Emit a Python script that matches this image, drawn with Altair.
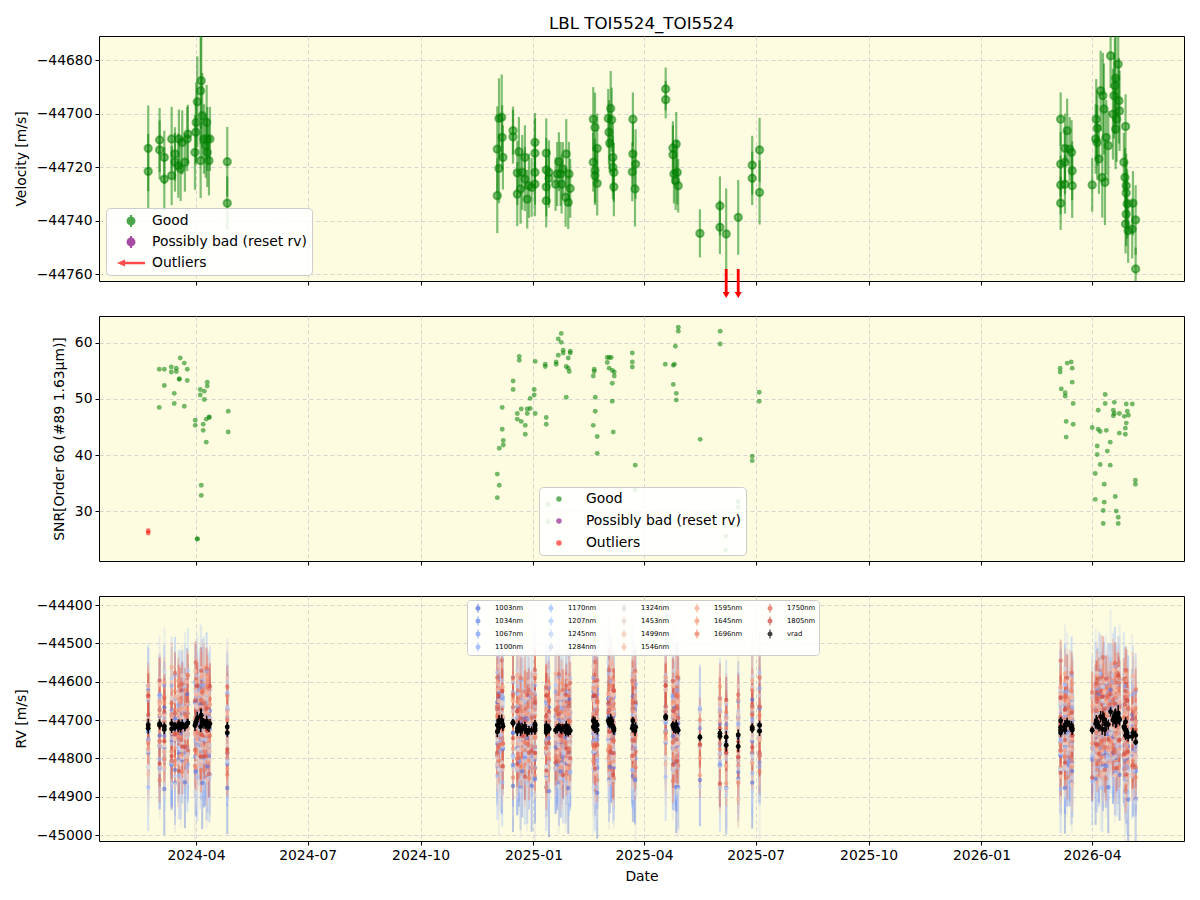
import altair as alt
import numpy as np
import pandas as pd

# ---------------- data (times are BJD - 2460000) ----------------
# Panel 1: good radial velocities
rv_day = [362.6, 362.6, 371.9, 371.9, 375.7, 375.7, 381.7, 381.7, 384.4, 384.4,
          387.1, 387.6, 389.0, 390.3, 392.5, 394.4, 394.9, 400.7, 401.3, 401.7,
          402.6, 405.3, 405.8, 406.6, 405.3, 408.0, 409.4, 410.2, 410.7, 410.7,
          412.1, 412.9, 427.0, 427.0,
          647.0, 647.0, 648.4, 650.6, 648.4, 651.0, 651.6, 659.8, 659.8, 663.3,
          663.3, 664.6, 666.0, 667.3, 669.5, 669.5, 671.4, 672.8, 675.0, 677.7,
          677.7, 677.7, 677.7, 686.9, 686.9, 686.9, 686.9, 689.1, 689.1, 694.5,
          695.8, 697.2, 698.6, 699.4, 700.5, 702.7, 703.2, 704.8, 705.4, 706.4,
          725.2, 726.6, 725.2, 726.6, 726.6, 728.4, 728.4, 737.4, 739.4, 740.2,
          738.0, 738.6, 741.2, 741.2, 742.0, 742.0, 757.5, 757.5, 757.0, 759.7,
          759.2, 784.2, 784.2, 790.1, 790.1, 792.8, 790.9, 793.6, 792.3, 794.4,
          812.1, 828.4, 828.4, 833.5, 843.3, 854.7, 854.7, 860.7, 860.7,
          1106.0, 1106.0, 1106.0, 1106.0, 1111.3, 1109.5, 1109.5, 1109.5, 1113.3, 1114.9,
          1115.4, 1115.4, 1131.7, 1135.0, 1135.8, 1134.5, 1135.8, 1137.2, 1138.6, 1140.4,
          1141.3, 1139.9, 1142.1, 1143.1, 1144.8, 1146.7, 1148.6, 1149.4, 1150.2, 1150.8,
          1150.8, 1151.6, 1152.9, 1153.5, 1154.0, 1158.9, 1157.5, 1158.4, 1159.4, 1159.4,
          1160.2, 1159.4, 1158.9, 1161.0, 1164.3, 1164.9, 1167.1, 1167.1]
rv_val = [-44713.0, -44721.6, -44709.9, -44713.6, -44716.4, -44724.5, -44709.5, -44723.2, -44715.1, -44718.2,
          -44719.5, -44709.5, -44720.7, -44710.8, -44718.2, -44709.5, -44707.7, -44714.5, -44707.0, -44703.3,
          -44695.6, -44691.5, -44687.7, -44700.8, -44717.6, -44709.5, -44712.0, -44703.3, -44709.5, -44714.5,
          -44717.6, -44709.5, -44718.0, -44733.5,
          -44730.7, -44713.3, -44701.8, -44701.4, -44720.5, -44708.9, -44716.4, -44706.4, -44708.7, -44722.2,
          -44730.1, -44714.3, -44728.2, -44722.0, -44716.4, -44724.5, -44732.0, -44727.0, -44727.6, -44710.8,
          -44714.8, -44722.0, -44726.4, -44714.8, -44721.1, -44727.4, -44732.6, -44722.0, -44724.2, -44726.4,
          -44722.6, -44718.0, -44722.6, -44726.4, -44720.7, -44731.3, -44715.1, -44733.2, -44722.6, -44728.0,
          -44702.1, -44705.2, -44718.2, -44721.3, -44723.2, -44713.0, -44726.1, -44701.8, -44698.1, -44702.3,
          -44707.0, -44711.1, -44716.4, -44720.1, -44722.0, -44727.4, -44702.1, -44715.1, -44721.8, -44718.9,
          -44728.2, -44690.8, -44694.8, -44712.9, -44715.4, -44711.4, -44722.6, -44722.0, -44725.1, -44727.0,
          -44744.8, -44734.5, -44742.5, -44745.0, -44738.8, -44719.3, -44724.2, -44713.6, -44729.5,
          -44702.1, -44718.9, -44726.7, -44733.5, -44706.4, -44713.0, -44718.2, -44726.4, -44713.3, -44714.5,
          -44721.4, -44727.0, -44726.7, -44702.1, -44705.5, -44709.5, -44710.8, -44717.0, -44691.5, -44693.3,
          -44698.3, -44723.9, -44725.7, -44708.9, -44712.0, -44678.4, -44700.2, -44693.3, -44689.6, -44686.8,
          -44705.8, -44702.1, -44681.5, -44695.2, -44699.0, -44704.8, -44718.2, -44723.9, -44727.0, -44729.7,
          -44733.8, -44737.6, -44741.3, -44743.8, -44743.2, -44733.5, -44739.8, -44758.1]
rv_err = [16, 14, 12, 11, 10, 12, 12, 11, 10, 11,
          12, 11, 12, 12, 11, 12, 11, 14, 12, 15,
          17, 20, 18, 16, 14, 13, 12, 14, 12, 13,
          13, 12, 13, 10,
          14, 16, 15, 16, 13, 12, 12, 9, 10, 12,
          12, 13, 13, 14, 12, 12, 11, 12, 11, 11,
          13, 12, 12, 13, 12, 11, 10, 12, 11, 10,
          12, 11, 12, 11, 10, 11, 13, 10, 12, 11,
          12, 13, 11, 12, 11, 13, 12, 11, 14, 12,
          12, 11, 13, 12, 11, 11, 10, 12, 11, 13,
          14, 8, 7, 10, 11, 12, 11, 12, 11, 10,
          9, 11, 10, 17, 14, 11, 10, 12, 12,
          10, 12, 11, 10, 12, 13, 12, 11, 12, 12,
          11, 12, 10, 15, 14, 13, 14, 13, 15, 16,
          17, 15, 16, 14, 13, 12, 17, 16, 18, 17,
          15, 16, 20, 16, 15, 12, 11, 11, 12, 12,
          13, 12, 11, 12, 11, 12, 13, 8]

# Outliers (below the plotted velocity range)
out_day = [833.5, 843.3]
out_val = [-44766.0, -44769.0]
out_err = [16, 14]

# Panel 2: SNR of order 60
snr_day = [371.6, 371.6, 375.7, 375.7, 381.4, 381.4, 383.8, 383.8, 385.5, 385.5,
           387.9, 387.9, 388.7, 392.0, 392.0, 394.4, 394.4, 400.9, 400.9, 402.6,
           402.6, 405.0, 405.0, 405.8, 405.8, 407.4, 407.4, 408.3, 408.3, 409.9,
           409.9, 410.7, 410.7, 412.3, 412.3, 427.8, 427.8,
           647.0, 647.0, 648.6, 648.6, 651.0, 651.0, 651.9, 651.9, 659.9, 659.9,
           663.3, 663.3, 664.9, 664.9, 666.5, 666.5, 669.8, 669.8, 671.4, 671.4,
           673.8, 673.8, 677.1, 677.1, 677.9, 677.9, 686.1, 686.1, 686.9, 686.9,
           688.5, 688.5, 695.0, 695.0, 696.7, 696.7, 699.1, 699.1, 700.7, 700.7,
           703.2, 703.2, 704.8, 704.8, 705.6, 706.4, 706.4, 725.2, 725.2, 726.0,
           726.0, 726.8, 726.8, 728.4, 728.4, 736.6, 736.6, 738.2, 738.2, 739.8,
           740.7, 740.7, 740.7, 741.5, 742.3, 742.3, 757.0, 757.0, 757.0, 759.4,
           759.4, 783.9, 790.4, 790.4, 791.3, 792.1, 792.9, 792.9, 794.5, 794.5,
           812.3, 828.6, 828.6, 833.2, 833.2, 843.3, 843.3, 854.7, 854.7, 860.4,
           860.4,
           1105.6, 1105.6, 1106.5, 1109.7, 1109.7, 1110.5, 1110.5, 1111.3, 1114.6, 1115.4,
           1115.4, 1116.2, 1116.2, 1131.7, 1134.2, 1134.2, 1135.8, 1135.8, 1136.6, 1136.6,
           1138.2, 1138.2, 1140.7, 1140.7, 1141.5, 1141.5, 1142.3, 1142.3, 1143.2, 1144.0,
           1146.4, 1146.4, 1148.9, 1148.9, 1149.7, 1149.7, 1150.5, 1151.3, 1152.9, 1152.9,
           1153.8, 1153.8, 1157.9, 1158.7, 1158.7, 1159.5, 1159.5, 1160.3, 1161.2, 1164.4,
           1166.9, 1166.9]
snr_val = [55.3, 48.5, 55.3, 52.4, 55.7, 54.8, 51.0, 49.2, 55.5, 54.9,
           53.5, 53.6, 57.3, 56.4, 48.7, 55.3, 53.3, 46.2, 45.3, 25.1,
           25.0, 51.7, 50.7, 34.6, 32.8, 45.5, 44.4, 51.4, 49.9, 46.4,
           42.3, 53.0, 52.3, 46.7, 46.8, 47.8, 44.1,
           36.6, 32.4, 34.6, 41.2, 44.6, 48.5, 41.8, 42.6, 53.2, 51.7,
           47.4, 46.4, 57.6, 56.9, 48.2, 46.0, 45.3, 43.7, 48.2, 47.4,
           50.1, 48.3, 51.7, 50.7, 47.4, 56.7, 56.2, 55.8, 46.7, 45.5,
           31.2, 28.1, 56.6, 56.2, 60.7, 57.8, 60.1, 61.7, 58.2, 58.7,
           50.3, 55.8, 57.3, 55.5, 54.9, 58.5, 58.2, 54.1, 45.3, 55.3,
           54.9, 50.3, 47.8, 43.3, 40.3, 57.4, 56.5, 57.4, 55.5, 57.4,
           55.1, 52.8, 49.6, 44.1, 54.8, 54.1, 58.2, 56.6, 55.7, 38.2,
           33.8, 56.2, 52.6, 56.0, 56.2, 59.4, 51.0, 49.8, 62.8, 62.1,
           42.8, 62.1, 59.8, 25.5, 23.0, 31.7, 30.7, 39.8, 39.0, 51.2,
           49.6,
           55.5, 54.8, 51.8, 51.1, 50.5, 46.0, 43.2, 56.4, 56.6, 55.5,
           53.0, 49.2, 45.5, 44.9, 36.7, 32.1, 41.6, 40.1, 44.6, 48.0,
           44.2, 38.3, 30.1, 27.8, 34.8, 31.6, 50.8, 49.2, 44.4, 40.7,
           42.3, 38.2, 48.0, 47.0, 49.4, 47.4, 32.6, 30.0, 28.9, 27.8,
           47.4, 43.9, 46.9, 44.8, 43.7, 49.1, 45.7, 47.8, 47.1, 49.1,
           35.5, 34.8]
snr_out_day = [362.6, 362.6]
snr_out_val = [26.5, 26.1]

# Panel 3: per-band RVs, as offsets (m/s) from vrad
band_names = ["1003nm", "1034nm", "1067nm", "1100nm", "1170nm", "1207nm", "1245nm",
              "1284nm", "1324nm", "1453nm", "1499nm", "1546nm", "1595nm", "1645nm",
              "1696nm", "1750nm", "1805nm"]
band_offset = [-40, -25, -10, 15, -30, 20, -5, 35, -50, 10, 25, -15, 30, 5, -20, 40, 0]
band_err = [120, 110, 105, 100, 115, 110, 105, 115, 125, 85, 75, 70, 65, 60, 58, 55, 60]
band_scatter = [0.0, 1.3, -0.8, 0.5, -1.6, 0.9, -0.3, 1.8, -1.1, 0.2,
                -0.6, 1.0, -1.9, 0.7, -0.1, 1.5, -1.3, 0.4, -0.9]

# ---------------- styles ----------------
band_colors = ["#5370dd", "#6485ec", "#7699f6", "#89acfd", "#9bbcff", "#adc9fd",
               "#bed3f6", "#cfdaec", "#dddddd", "#ead5c9", "#f3c9b4", "#f7bba0",
               "#f7a98a", "#f39576", "#eb7e62", "#e06450", "#d24a3f"]
FONT = "DejaVu Sans"
FS = 13.9
BG = "#fdfce1"
W, H = 1085, 245


def to_date(days):
    return pd.to_datetime(np.asarray(days, dtype=float) + 2460000.0 - 2440587.5, unit="D")


xscale = alt.Scale(domain=[alt.DateTime(year=2024, month=1, date=13),
                           alt.DateTime(year=2026, month=6, date=15)])
xticks = [alt.DateTime(year=y, month=m, date=1) for y, m in
          [(2024, 4), (2024, 7), (2024, 10), (2025, 1), (2025, 4), (2025, 7),
           (2025, 10), (2026, 1), (2026, 4)]]


def xenc(labels):
    return alt.X("date:T", scale=xscale,
                 axis=alt.Axis(values=xticks, format="%Y-%m", labels=labels,
                               title="Date" if labels else None, labelFlush=False))


statuses = ["Good", "Possibly bad (reset rv)", "Outliers"]
status_colors = ["green", "purple", "red"]

# ---------------- panel 1 ----------------
p1 = pd.DataFrame({"date": to_date(rv_day), "v": rv_val, "e": rv_err})
p1["lo"] = p1["v"] - p1["e"]
p1["hi"] = p1["v"] + p1["e"]
y1 = alt.Scale(domain=[-44762.6, -44671.0], nice=False, zero=False)
y1axis = alt.Axis(values=list(range(-44760, -44679, 20)), format="d", title="Velocity [m/s]")

bars1 = alt.Chart(p1).mark_rule(color="green", strokeWidth=2.2, opacity=0.5, clip=True).encode(
    x=xenc(False), y=alt.Y("lo:Q", scale=y1, axis=y1axis), y2="hi:Q")
pts1 = alt.Chart(p1).mark_point(filled=True, fill="green", stroke="green", opacity=1,
                                fillOpacity=0.5, strokeOpacity=0.5, strokeWidth=2,
                                size=55, clip=True).encode(
    x=xenc(False), y=alt.Y("v:Q", scale=y1))

po = pd.DataFrame({"date": to_date(out_day), "v": out_val})
arrow_shaft = alt.Chart(po).mark_rule(color="red", strokeWidth=2.8, clip=False).encode(
    x=xenc(False), y=alt.value(233), y2=alt.value(256))
arrow_head = alt.Chart(po).mark_point(shape="triangle-down", filled=True, color="red",
                                      opacity=1, size=50, clip=False).encode(
    x=xenc(False), y=alt.value(259))

path_bar = ("M-0.13,-0.75L0.13,-0.75L0.13,0.75L-0.13,0.75Z "
            "M-0.56,0A0.56,0.56,0,1,1,0.56,0A0.56,0.56,0,1,1,-0.56,0Z")
path_arrow = "M-1.75,0L-0.75,-0.45L-0.75,-0.16L1.75,-0.16L1.75,0.16L-0.75,0.16L-0.75,0.45Z"
leg1_df = pd.DataFrame({"status": statuses, "date": to_date([500, 500, 500])})
leg1_props = dict(title=None, orient="none", legendX=7, legendY=172, symbolSize=256,
                  symbolOpacity=0.7, labelFontSize=FS, labelFont=FONT, labelOffset=13,
                  symbolOffset=12, rowPadding=6, padding=5,
                  fillColor="rgba(255,255,255,0.85)",
                  strokeColor="#cccccc", cornerRadius=4, symbolStrokeWidth=0)
leg1 = alt.Chart(leg1_df).mark_point(filled=True, opacity=0.7, clip=True).encode(
    x=xenc(False), y=alt.value(-200),
    color=alt.Color("status:N", scale=alt.Scale(domain=statuses, range=status_colors),
                    legend=alt.Legend(**leg1_props)),
    shape=alt.Shape("status:N", scale=alt.Scale(domain=statuses,
                                                range=[path_bar, path_bar, path_arrow]),
                    legend=alt.Legend(**leg1_props)))

panel1 = alt.layer(bars1, pts1, arrow_shaft, arrow_head, leg1).properties(
    width=W, height=H,
    title=alt.TitleParams("LBL TOI5524_TOI5524", fontSize=16.7, font=FONT, fontWeight="normal",
                          anchor="middle", frame="group", offset=3, color="black"))

# ---------------- panel 2 ----------------
p2 = pd.DataFrame({"date": to_date(snr_day + snr_out_day),
                   "snr": snr_val + snr_out_val,
                   "status": ["Good"] * len(snr_day) + ["Outliers"] * len(snr_out_day)})
y2 = alt.Scale(domain=[21.1, 64.8], nice=False, zero=False)
pts2 = alt.Chart(p2).mark_circle(size=24, opacity=0.55, clip=True).encode(
    x=xenc(False),
    y=alt.Y("snr:Q", scale=y2, axis=alt.Axis(values=[30, 40, 50, 60],
                                             title="SNR[Order 60 (#89 1.63μm)]")),
    color=alt.Color("status:N", scale=alt.Scale(domain=statuses, range=status_colors),
                    legend=alt.Legend(title=None, orient="none", legendX=440, legendY=171,
                                      symbolType="circle", symbolSize=30, symbolOpacity=0.6,
                                      labelFontSize=FS, labelFont=FONT, labelOffset=20,
                                      symbolOffset=8, rowPadding=7, padding=5,
                                      fillColor="rgba(255,255,255,0.85)",
                                      strokeColor="#cccccc", cornerRadius=4)))
panel2 = pts2.properties(width=W, height=H)

# ---------------- panel 3 ----------------
all_day = rv_day + out_day
all_val = rv_val + out_val
all_err = rv_err + out_err
rows = []
nsc = len(band_scatter)
for b, name in enumerate(band_names):
    for i, (d, v) in enumerate(zip(all_day, all_val)):
        off = band_offset[b] + 65.0 * band_scatter[(3 * i + 7 * b) % nsc]
        rows.append((d, name, v + off, band_err[b]))
p3 = pd.DataFrame(rows, columns=["day", "band", "rv", "e"])
p3["date"] = to_date(p3["day"])
p3["lo"] = p3["rv"] - p3["e"]
p3["hi"] = p3["rv"] + p3["e"]
pv = pd.DataFrame({"date": to_date(all_day), "rv": all_val, "e": all_err, "band": "vrad"})
pv["lo"] = pv["rv"] - pv["e"]
pv["hi"] = pv["rv"] + pv["e"]

legend_order = ["1003nm", "1170nm", "1324nm", "1595nm", "1750nm",
                "1034nm", "1207nm", "1453nm", "1645nm", "1805nm",
                "1067nm", "1245nm", "1499nm", "1696nm", "vrad",
                "1100nm", "1284nm", "1546nm"]
cmap = dict(zip(band_names, band_colors))
cmap["vrad"] = "black"
cscale3 = alt.Scale(domain=legend_order, range=[cmap[k] for k in legend_order])
path_bar_s = ("M-0.12,-0.9L0.12,-0.9L0.12,0.9L-0.12,0.9Z "
              "M-0.5,0A0.5,0.5,0,1,1,0.5,0A0.5,0.5,0,1,1,-0.5,0Z")
leg3 = alt.Legend(title=None, orient="none", legendX=368, legendY=4, columns=5,
                  direction="horizontal",
                  symbolType=path_bar_s, symbolSize=100, symbolOpacity=0.75,
                  labelFontSize=6.8, labelFont=FONT, labelOffset=12, symbolOffset=3,
                  columnPadding=19, rowPadding=3, padding=3,
                  fillColor="rgba(255,255,255,0.85)",
                  strokeColor="#cccccc", cornerRadius=3, symbolStrokeWidth=0)
y3 = alt.Scale(domain=[-45015.6, -44376.5], nice=False, zero=False)
y3axis = alt.Axis(values=list(range(-45000, -44399, 100)), format="d", title="RV [m/s]")
col3 = alt.Color("band:N", scale=cscale3, legend=leg3)

bars3 = alt.Chart(p3).mark_rule(strokeWidth=2, opacity=0.4, clip=True).encode(
    x=xenc(True), y=alt.Y("lo:Q", scale=y3, axis=y3axis), y2="hi:Q", color=col3)
pts3 = alt.Chart(p3).mark_circle(size=20, opacity=0.6, clip=True).encode(
    x=xenc(True), y=alt.Y("rv:Q", scale=y3), color=col3)
barsv = alt.Chart(pv).mark_rule(strokeWidth=1.5, opacity=1, clip=True).encode(
    x=xenc(True), y=alt.Y("lo:Q", scale=y3), y2="hi:Q", color=col3)
ptsv = alt.Chart(pv).mark_circle(size=24, opacity=1, clip=True).encode(
    x=xenc(True), y=alt.Y("rv:Q", scale=y3), color=col3)
panel3 = alt.layer(bars3, pts3, barsv, ptsv).properties(width=W, height=H)

chart = alt.vconcat(panel1, panel2, panel3, spacing=35, bounds="flush").resolve_scale(
    color="independent", shape="independent", y="independent"
).resolve_legend(color="independent", shape="independent").configure_axis(
    labelFont=FONT, titleFont=FONT, labelFontSize=FS, titleFontSize=FS,
    titleFontWeight="normal", labelColor="black", titleColor="black",
    tickColor="black", tickSize=4, domain=False, grid=True, gridColor="#cccccc",
    gridDash=[4, 3], gridWidth=0.8, labelPadding=3, titlePadding=8
).configure_view(stroke="black", strokeWidth=1, fill=BG).properties(
    background="white", padding={"left": 13, "top": 15, "right": 5, "bottom": 5})

chart.save("out.html", embed_options={"renderer": "svg", "actions": False})
